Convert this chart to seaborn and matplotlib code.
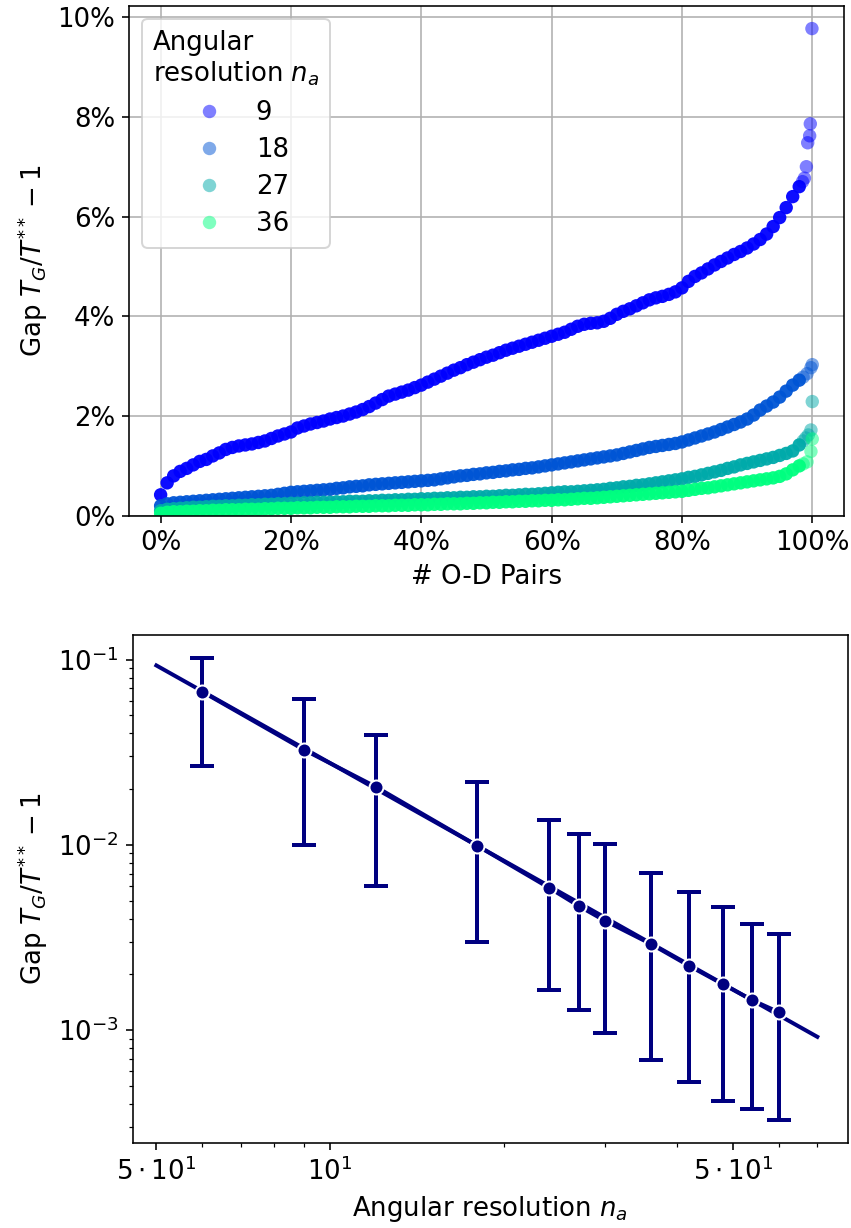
import numpy as np
import pandas as pd
import matplotlib
matplotlib.use('Agg')
import matplotlib.pyplot as plt
import seaborn as sns
from matplotlib.ticker import PercentFormatter

plt.rcParams['font.size'] = 13

# --- top panel: sorted gap per O-D pair (in %), one series per angular resolution
resolutions = [9, 18, 27, 36]
pct_main = list(range(0, 99))

gap_9 = [0.42, 0.66, 0.80, 0.89, 0.95, 1.02, 1.09, 1.13, 1.20, 1.26,
         1.33, 1.37, 1.40, 1.42, 1.44, 1.47, 1.50, 1.55, 1.60, 1.64,
         1.68, 1.76, 1.80, 1.84, 1.87, 1.90, 1.94, 1.97, 2.00, 2.04,
         2.08, 2.13, 2.19, 2.26, 2.33, 2.40, 2.44, 2.48, 2.52, 2.57,
         2.62, 2.68, 2.74, 2.80, 2.86, 2.92, 2.97, 3.03, 3.08, 3.13,
         3.18, 3.22, 3.27, 3.32, 3.36, 3.40, 3.44, 3.48, 3.52, 3.56,
         3.60, 3.64, 3.68, 3.74, 3.80, 3.84, 3.86, 3.87, 3.90, 3.96,
         4.04, 4.10, 4.15, 4.21, 4.27, 4.33, 4.37, 4.40, 4.44, 4.49,
         4.57, 4.70, 4.80, 4.87, 4.95, 5.03, 5.10, 5.17, 5.24, 5.30,
         5.37, 5.45, 5.54, 5.65, 5.80, 5.98, 6.18, 6.40, 6.60]
tail_x_9 = [98.5, 98.8, 99.1, 99.3, 99.6, 99.7, 99.95]
tail_y_9 = [6.70, 6.77, 7.00, 7.48, 7.62, 7.86, 9.77]

gap_18 = [0.20, 0.24, 0.26, 0.27, 0.28, 0.29, 0.30, 0.31, 0.32, 0.33,
          0.34, 0.35, 0.36, 0.37, 0.38, 0.39, 0.40, 0.41, 0.43, 0.45,
          0.47, 0.48, 0.49, 0.50, 0.51, 0.52, 0.53, 0.55, 0.56, 0.58,
          0.59, 0.60, 0.62, 0.63, 0.64, 0.65, 0.66, 0.67, 0.68, 0.69,
          0.70, 0.71, 0.72, 0.74, 0.76, 0.78, 0.80, 0.81, 0.83, 0.84,
          0.86, 0.87, 0.89, 0.90, 0.92, 0.93, 0.95, 0.96, 0.98, 1.00,
          1.02, 1.04, 1.06, 1.08, 1.10, 1.12, 1.14, 1.16, 1.18, 1.20,
          1.22, 1.25, 1.28, 1.31, 1.34, 1.37, 1.39, 1.41, 1.43, 1.45,
          1.48, 1.52, 1.56, 1.60, 1.64, 1.68, 1.73, 1.78, 1.83, 1.88,
          1.94, 2.02, 2.12, 2.20, 2.28, 2.38, 2.50, 2.62, 2.72]
tail_x_18 = [98.6, 99.2, 99.8, 100.0]
tail_y_18 = [2.78, 2.85, 2.97, 3.03]

gap_27 = [0.10, 0.13, 0.14, 0.15, 0.16, 0.17, 0.17, 0.18, 0.19, 0.19,
          0.20, 0.20, 0.21, 0.21, 0.22, 0.22, 0.23, 0.23, 0.24, 0.24,
          0.25, 0.25, 0.26, 0.26, 0.27, 0.27, 0.27, 0.28, 0.28, 0.29,
          0.29, 0.29, 0.30, 0.30, 0.31, 0.31, 0.32, 0.32, 0.33, 0.33,
          0.34, 0.34, 0.35, 0.35, 0.36, 0.36, 0.37, 0.37, 0.38, 0.38,
          0.39, 0.39, 0.40, 0.41, 0.41, 0.42, 0.43, 0.43, 0.44, 0.45,
          0.46, 0.47, 0.48, 0.48, 0.49, 0.50, 0.51, 0.52, 0.53, 0.55,
          0.56, 0.58, 0.59, 0.61, 0.62, 0.64, 0.66, 0.68, 0.70, 0.72,
          0.74, 0.77, 0.79, 0.82, 0.85, 0.88, 0.91, 0.95, 0.98, 1.02,
          1.05, 1.08, 1.11, 1.14, 1.17, 1.21, 1.25, 1.30, 1.42]
tail_x_27 = [98.6, 99.0, 99.4, 99.8, 100.0]
tail_y_27 = [1.50, 1.56, 1.62, 1.72, 2.29]

gap_36 = [0.05, 0.07, 0.08, 0.08, 0.09, 0.09, 0.10, 0.10, 0.11, 0.11,
          0.12, 0.12, 0.12, 0.13, 0.13, 0.13, 0.14, 0.14, 0.15, 0.15,
          0.15, 0.16, 0.16, 0.16, 0.17, 0.17, 0.17, 0.18, 0.18, 0.18,
          0.19, 0.19, 0.19, 0.20, 0.20, 0.20, 0.21, 0.21, 0.21, 0.22,
          0.22, 0.22, 0.23, 0.23, 0.24, 0.24, 0.24, 0.25, 0.25, 0.26,
          0.26, 0.27, 0.27, 0.28, 0.28, 0.29, 0.29, 0.30, 0.30, 0.31,
          0.31, 0.32, 0.32, 0.33, 0.34, 0.35, 0.35, 0.36, 0.37, 0.38,
          0.39, 0.40, 0.41, 0.42, 0.43, 0.44, 0.45, 0.46, 0.47, 0.48,
          0.49, 0.51, 0.53, 0.55, 0.56, 0.58, 0.60, 0.62, 0.64, 0.66,
          0.68, 0.70, 0.72, 0.74, 0.76, 0.79, 0.84, 0.92, 1.00]
tail_x_36 = [98.6, 99.2, 99.8, 100.0]
tail_y_36 = [1.04, 1.08, 1.29, 1.54]

# --- bottom panel: mean gap vs angular resolution with spread
na_values = [6, 9, 12, 18, 24, 27, 30, 36, 42, 48, 54, 60]
gap_mean = [0.0672, 0.0327, 0.0206, 0.0099, 0.00586, 0.00468,
            0.00389, 0.00292, 0.00222, 0.00177, 0.00145, 0.00125]
gap_low = [0.0267, 0.0100, 0.0060, 0.00299, 0.00164, 0.00128,
           0.000963, 0.000689, 0.000523, 0.000413, 0.000374, 0.000326]
gap_high = [0.1026, 0.0615, 0.0394, 0.0219, 0.01365, 0.01148,
            0.0101, 0.00706, 0.00557, 0.00462, 0.00374, 0.0033]
fit_x = [5, 70]
fit_y = [0.093, 0.00092]

main = {9: gap_9, 18: gap_18, 27: gap_27, 36: gap_36}
tails = {9: (tail_x_9, tail_y_9), 18: (tail_x_18, tail_y_18),
         27: (tail_x_27, tail_y_27), 36: (tail_x_36, tail_y_36)}

rows_main, rows_tail = [], []
for r in resolutions:
    for x, y in zip(pct_main, main[r]):
        rows_main.append((str(r), x, y))
    for x, y in zip(*tails[r]):
        rows_tail.append((str(r), x, y))
df_main = pd.DataFrame(rows_main, columns=['na', 'pairs', 'gap'])
df_tail = pd.DataFrame(rows_tail, columns=['na', 'pairs', 'gap'])

cmap = plt.get_cmap('winter')
palette = {str(r): cmap(i / 3) for i, r in enumerate(resolutions)}
order = [str(r) for r in resolutions]

fig = plt.figure(figsize=(851 / 144, 1228 / 144), dpi=144)
ax1 = fig.add_axes([0.152, 0.580, 0.840, 0.415])
ax2 = fig.add_axes([0.156, 0.069, 0.840, 0.414])

# dense body of each sorted curve (many overlapping points in the original)
sns.scatterplot(data=df_main, x='pairs', y='gap', hue='na', hue_order=order,
                palette=palette, alpha=0.95, s=45, edgecolor='none', ax=ax1)
# sparse outliers at the top end
sns.scatterplot(data=df_tail, x='pairs', y='gap', hue='na', hue_order=order,
                palette=palette, alpha=0.5, s=45, edgecolor='none',
                legend=False, ax=ax1)
ax1.set_xlim(-4.8, 104.9)
ax1.set_ylim(0, 10.22)
ax1.xaxis.set_major_formatter(PercentFormatter(100, decimals=0))
ax1.yaxis.set_major_formatter(PercentFormatter(100, decimals=0))
ax1.grid(True, color='#b0b0b0', lw=0.8)
ax1.set_axisbelow(True)
ax1.set_xlabel('# O-D Pairs')
ax1.set_ylabel(r'Gap $T_G/T^{**}-1$')
leg = ax1.legend(title='Angular\nresolution $n_a$', loc='upper left',
                 fontsize=13, title_fontsize=13, labelspacing=0.43)
for h in leg.legend_handles:
    h.set_alpha(0.5)

# bottom
sns.lineplot(x=fit_x, y=fit_y, color='navy', lw=2, ax=ax2)
ax2.errorbar(na_values, gap_mean,
             yerr=[np.array(gap_mean) - np.array(gap_low),
                   np.array(gap_high) - np.array(gap_mean)],
             fmt='none', ecolor='navy', elinewidth=2, capsize=6, capthick=2)
sns.lineplot(x=na_values, y=gap_mean, color='navy', lw=2, marker='o',
             markersize=7, markeredgecolor='white', markeredgewidth=1, ax=ax2)
ax2.set_xscale('log')
ax2.set_yscale('log')
ax2.set_xlim(4.55, 79)
ax2.set_ylim(2.45e-4, 0.136)
ax2.set_xticks([5, 10, 50])
ax2.set_xticklabels([r'$5\cdot10^1$', r'$10^1$', r'$5\cdot10^1$'])
ax2.set_xlabel('Angular resolution $n_a$')
ax2.set_ylabel(r'Gap $T_G/T^{**}-1$')

fig.savefig('out.png', dpi=144)
